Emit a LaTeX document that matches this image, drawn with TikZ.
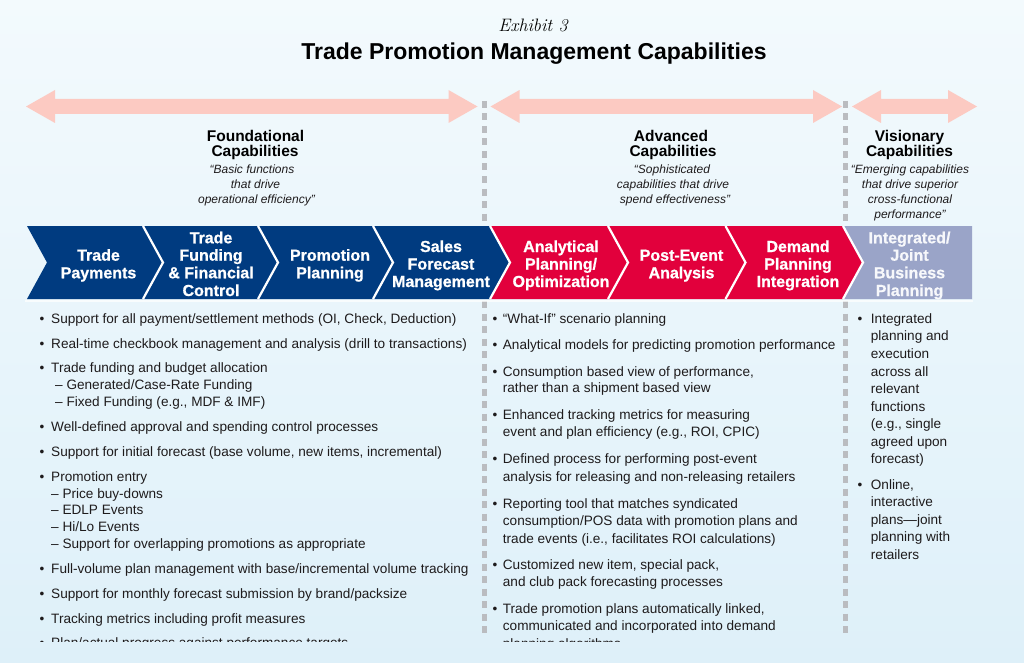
\documentclass[tikz,border=0pt]{standalone}
\usepackage{fontspec}
\newfontfamily\lsans{Liberation Sans}
\newfontfamily\lsansheavy{Liberation Sans}[FakeBold=0.8]
\definecolor{navy}{RGB}{0,59,128}
\definecolor{tpred}{RGB}{226,0,60}
\definecolor{lav}{RGB}{154,164,200}
\definecolor{salmon}{RGB}{252,202,194}
\definecolor{dashgray}{RGB}{186,188,192}
\definecolor{bgtop}{RGB}{243,250,253}
\definecolor{bgbot}{RGB}{222,240,249}
\definecolor{ink}{RGB}{30,27,28}
\newcommand\tpbody{\lsans\fontsize{13.6}{17}\selectfont}
\newcommand\tpchev{\lsansheavy\bfseries\fontsize{16}{17.5}\selectfont}
\newcommand\tphead{\lsans\bfseries\fontsize{15.5}{15}\selectfont}
\newcommand\tpquote{\lsans\itshape\fontsize{12}{15}\selectfont}
\newcommand\tptitle{\lsans\bfseries\fontsize{23}{26}\selectfont}
\tikzset{
  chevtxt/.style={font=\tpchev, text=white, anchor=base, inner sep=0pt},
  headtxt/.style={font=\tphead, text=black, anchor=base, inner sep=0pt},
  quotetxt/.style={font=\tpquote, text=ink, anchor=base, inner sep=0pt},
  bodytxt/.style={font=\tpbody, text=ink, anchor=base west, inner sep=0pt},
  bul/.style={font=\tpbody, text=ink, anchor=base, inner sep=0pt},
  dblarrow/.style={fill=salmon},
  divider/.style={draw=dashgray, line width=4.5pt, dash pattern=on 7pt off 5.5pt}
}
\begin{document}
\begin{tikzpicture}[x=1pt,y=-1pt]
% background
\fill[top color=bgtop,bottom color=bgbot] (0,0) rectangle (1024,663);
\useasboundingbox (0,0) rectangle (1024,663);

% title
\node[anchor=base, inner sep=0pt] (exh) at (533,31.7) {\fontsize{18}{20}\selectfont\itshape Exhibit \oldstylenums{3}};
\node[anchor=base, inner sep=0pt, font=\tptitle, text=black] (title) at (534,59.3) {Trade Promotion Management Capabilities};

% dividers
\coordinate (d1t) at (484.5,101); \coordinate (d1b) at (484.5,638);
\coordinate (d2t) at (845.5,101); \coordinate (d2b) at (845.5,638);
\draw[divider] (d1t) -- (d1b);
\draw[divider] (d2t) -- (d2b);

% double arrows
\foreach \a/\b in {26/477.5, 490.5/842, 852/977}{
  \fill[dblarrow] (\a,106.5) -- (\a+29,90) -- (\a+29,99) -- (\b-29,99) -- (\b-29,90) -- (\b,106.5)
     -- (\b-29,123) -- (\b-29,114) -- (\a+29,114) -- (\a+29,123) -- cycle;
}

% section headings
\node[headtxt] (fh1) at (255.5,141.7) {Foundational};
\node[headtxt] (fh2) at (255,156.7) {Capabilities};
\node[quotetxt] (fq1) at (252,173.5) {“Basic functions};
\node[quotetxt] (fq2) at (255.5,188.5) {that drive};
\node[quotetxt] (fq3) at (256.5,203.5) {operational efficiency”};

\node[headtxt] (ah1) at (671,141.7) {Advanced};
\node[headtxt] (ah2) at (673,156.7) {Capabilities};
\node[quotetxt] (aq1) at (672,173.5) {“Sophisticated};
\node[quotetxt] (aq2) at (673,188.5) {capabilities that drive};
\node[quotetxt] (aq3) at (675,203.5) {spend effectiveness”};

\node[headtxt] (vh1) at (909.5,141.7) {Visionary};
\node[headtxt] (vh2) at (909.5,156.7) {Capabilities};
\node[quotetxt] (vq1) at (910,173.5) {“Emerging capabilities};
\node[quotetxt] (vq2) at (910,188.5) {that drive superior};
\node[quotetxt] (vq3) at (910,203.5) {cross-functional};
\node[quotetxt] (vq4) at (910,218.5) {performance”};

% chevrons
\foreach \a/\b/\c in {27/143/navy, 143/258/navy, 258/373/navy, 373/490/navy, 490/608/tpred, 608/725.5/tpred, 725.5/843/tpred}{
  \fill[\c] (\a,226) -- (\b,226) -- (\b+20,262.5) -- (\b,299) -- (\a,299) -- (\a+20,262.5) -- cycle;
}
\fill[lav] (843,226) -- (972,226) -- (972,299) -- (843,299) -- (863,262.5) -- cycle;
\foreach \b in {143,258,373,490,608,725.5,843}{
  \draw[white, line width=2.2pt] (\b,226) -- (\b+20,262.5) -- (\b,299);
}
\fill[white, opacity=0.7] (25,299.5) rectangle (973,302);

% chevron labels
\node[chevtxt] (c1a) at (98.5,260.7) {Trade};
\node[chevtxt] (c1b) at (98.5,278.3) {Payments};
\node[chevtxt] (c2a) at (211,243.3) {Trade};
\node[chevtxt] (c2b) at (211,260.7) {Funding};
\node[chevtxt] (c2c) at (211,278.3) {\& Financial};
\node[chevtxt] (c2d) at (211,296) {Control};
\node[chevtxt] (c3a) at (330,260.7) {Promotion};
\node[chevtxt] (c3b) at (330,278.3) {Planning};
\node[chevtxt] (c4a) at (441,252) {Sales};
\node[chevtxt] (c4b) at (441,269.5) {Forecast};
\node[chevtxt] (c4c) at (441,287) {Management};
\node[chevtxt] (c5a) at (561,252) {Analytical};
\node[chevtxt] (c5b) at (561,269.5) {Planning/};
\node[chevtxt] (c5c) at (561,287) {Optimization};
\node[chevtxt] (c6a) at (681.5,260.7) {Post-Event};
\node[chevtxt] (c6b) at (681.5,278.3) {Analysis};
\node[chevtxt] (c7a) at (798,252) {Demand};
\node[chevtxt] (c7b) at (798,269.5) {Planning};
\node[chevtxt] (c7c) at (798,287) {Integration};
\node[chevtxt, text=white!92!lav] (c8a) at (909.5,243.3) {Integrated/};
\node[chevtxt, text=white!92!lav] (c8b) at (909.5,260.7) {Joint};
\node[chevtxt, text=white!92!lav] (c8c) at (909.5,278.3) {Business};
\node[chevtxt, text=white!92!lav] (c8d) at (909.5,296) {Planning};

% body text
\begin{scope}
\clip (0,0) rectangle (1024,641);
% column 1
\foreach \y [count=\i] in {323,348,372.5,431,456,481,573.5,598.5,623,647.5}
  \node[bul] (b1\i) at (42,\y) {\textbullet};
\foreach \x/\y/\t [count=\i] in {
  51/323/{Support for all payment/settlement methods (OI, Check, Deduction)},
  51/348/{Real-time checkbook management and analysis (drill to transactions)},
  51/372.5/{Trade funding and budget allocation},
  55/389.5/{– Generated/Case-Rate Funding},
  55/406.5/{– Fixed Funding (e.g., MDF \& IMF)},
  51/431/{Well-defined approval and spending control processes},
  51/456/{Support for initial forecast (base volume, new items, incremental)},
  51/481/{Promotion entry},
  51/498/{– Price buy-downs},
  51/514.5/{– EDLP Events},
  51/531.5/{– Hi/Lo Events},
  51/548.5/{– Support for overlapping promotions as appropriate},
  51/573.5/{Full-volume plan management with base/incremental volume tracking},
  51/598.5/{Support for monthly forecast submission by brand/packsize},
  51/623/{Tracking metrics including profit measures},
  51/647.5/{Plan/actual progress against performance targets}}
  \node[bodytxt] (t1\i) at (\x,\y) {\t};
% column 2
\foreach \y [count=\i] in {323.3,349.3,376,419.3,463.3,508.3,569.3,613.3}
  \node[bul] (b2\i) at (495,\y) {\textbullet};
\foreach \y/\t [count=\i] in {
  323.3/{“What-If” scenario planning},
  349.3/{Analytical models for predicting promotion performance},
  376/{Consumption based view of performance,},
  392.7/{rather than a shipment based view},
  419.3/{Enhanced tracking metrics for measuring},
  436.7/{event and plan efficiency (e.g., ROI, CPIC)},
  463.3/{Defined process for performing post-event},
  481/{analysis for releasing and non-releasing retailers},
  508.3/{Reporting tool that matches syndicated},
  525.7/{consumption/POS data with promotion plans and},
  543/{trade events (i.e., facilitates ROI calculations)},
  569.3/{Customized new item, special pack,},
  586.7/{and club pack forecasting processes},
  613.3/{Trade promotion plans automatically linked,},
  630.7/{communicated and incorporated into demand},
  648/{planning algorithms}}
  \node[bodytxt] (t2\i) at (502.7,\y) {\t};
% column 3
\foreach \y [count=\i] in {323,489.3}
  \node[bul] (b3\i) at (860,\y) {\textbullet};
\foreach \y/\t [count=\i] in {
  323/{Integrated},
  340.7/{planning and},
  358.3/{execution},
  376/{across all},
  393.5/{relevant},
  411/{functions},
  428.5/{(e.g., single},
  446/{agreed upon},
  463.5/{forecast)},
  489.3/{Online,},
  506.8/{interactive},
  524.3/{plans—joint},
  541.8/{planning with},
  559.3/{retailers}}
  \node[bodytxt] (t3\i) at (870.7,\y) {\t};
\end{scope}
\end{tikzpicture}
\end{document}
